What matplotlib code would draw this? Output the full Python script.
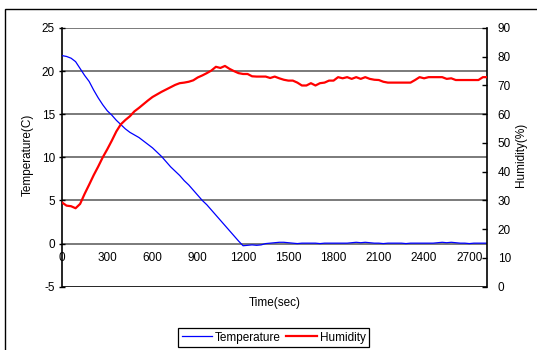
import numpy as np
import matplotlib
matplotlib.use("Agg")
import matplotlib.pyplot as plt
from matplotlib.patches import Rectangle

plt.rcParams['font.family'] = ['Liberation Sans', 'DejaVu Sans']
plt.rcParams['font.size'] = 8.5
plt.rcParams['axes.unicode_minus'] = False

# sample times (sec), every 30 s
time = np.arange(0, 2821, 30)

temperature = [
    21.8, 21.7, 21.5, 21.1, 20.3, 19.5, 18.8, 17.8, 16.9, 16.1,
    15.4, 14.9, 14.3, 13.8, 13.3, 12.9, 12.6, 12.3, 11.9, 11.5,
    11.1, 10.6, 10.1, 9.5, 8.9, 8.4, 7.9, 7.3, 6.8, 6.2,
    5.6, 5.0, 4.5, 3.9, 3.3, 2.7, 2.1, 1.5, 0.9, 0.3,
    -0.25, -0.2, -0.15, -0.2, -0.15, 0.0, 0.05, 0.1, 0.15, 0.15,
    0.1, 0.05, 0.0, 0.05, 0.05, 0.05, 0.05, 0.0, 0.05, 0.05,
    0.05, 0.05, 0.05, 0.05, 0.1, 0.15, 0.1, 0.15, 0.1, 0.05,
    0.05, 0.0, 0.05, 0.05, 0.05, 0.05, 0.0, 0.05, 0.05, 0.05,
    0.05, 0.05, 0.05, 0.1, 0.15, 0.1, 0.15, 0.1, 0.05, 0.05,
    0.0, 0.05, 0.05, 0.05, 0.05,
]

humidity = [
    29.3, 28.2, 28.0, 27.3, 28.8, 32.3, 35.5, 38.8, 41.8, 45.0,
    47.8, 50.8, 54.0, 56.5, 58.0, 59.3, 61.0, 62.2, 63.5, 64.8,
    66.0, 66.9, 67.8, 68.6, 69.4, 70.2, 70.8, 71.0, 71.3, 71.8,
    72.8, 73.5, 74.3, 75.2, 76.5, 76.1, 76.8, 75.8, 75.0, 74.3,
    74.0, 74.0, 73.2, 73.1, 73.1, 73.1, 72.6, 73.1, 72.5, 72.0,
    71.7, 71.7, 71.0, 70.0, 70.0, 70.8, 70.0, 70.8, 71.0, 71.7,
    71.7, 72.9, 72.5, 72.9, 72.3, 72.9, 72.3, 72.9, 72.3, 72.0,
    71.9, 71.3, 71.0, 71.0, 71.0, 71.0, 71.0, 71.0, 71.9, 72.9,
    72.5, 72.9, 72.9, 72.9, 72.9, 72.3, 72.5, 71.9, 71.9, 71.9,
    71.9, 71.9, 71.9, 72.9, 72.9,
]

x_ticks = list(range(0, 2701, 300))
temp_ticks = list(range(-5, 26, 5))
hum_ticks = list(range(0, 91, 10))

fig = plt.figure(figsize=(5.37, 3.5), dpi=100)
ax = fig.add_axes([62 / 537, 1 - 286.7 / 350, (486.7 - 62) / 537, (286.7 - 28) / 350])

# outer chart border (runs off the right/bottom of the picture)
fig.add_artist(Rectangle((5 / 537, -0.1), 2, 0.974 + 0.1, transform=fig.transFigure,
                         fill=False, edgecolor='black', lw=1.0))

# horizontal gridlines
for v in temp_ticks[1:]:
    ax.axhline(v, color='#707070', lw=1.3, zorder=1)
ax.axhline(-5, color='black', lw=1.2, zorder=1)

t_line, = ax.plot(time, temperature, color='#0000ff', lw=0.9, zorder=3, label='Temperature')
ax.set_xlim(0, 2815)
ax.set_ylim(-5, 25)
ax.set_yticks(temp_ticks)
ax.set_xticks(x_ticks)
ax.spines['top'].set_visible(False)
ax.spines['right'].set_visible(False)
ax.spines['bottom'].set_position(('data', 0))
ax.spines['bottom'].set_visible(False)
ax.spines['left'].set_linewidth(1.2)
ax.tick_params(axis='y', direction='inout', length=4, width=1, pad=3)
ax.tick_params(axis='x', length=0, pad=6)

ax2 = ax.twinx()
h_line, = ax2.plot(time, humidity, color='#ff0000', lw=1.6, zorder=3, label='Humidity')
ax2.set_ylim(0, 90)
ax2.set_yticks(hum_ticks)
for s in ['top', 'left', 'bottom']:
    ax2.spines[s].set_visible(False)
ax2.spines['right'].set_linewidth(1.2)
ax2.tick_params(axis='y', direction='in', length=3.5, width=1, pad=8)

fig.text(28 / 537, 1 - 155 / 350, 'Temperature(C)', rotation=90, ha='center', va='center')
fig.text(521 / 537, 1 - 155 / 350, 'Humidity(%)', rotation=90, ha='center', va='center')
fig.text(275 / 537, 1 - 303 / 350, 'Time(sec)', ha='center', va='center')

leg = fig.legend(handles=[t_line, h_line], loc='center', bbox_to_anchor=(273.5 / 537, 1 - 337.5 / 350),
                 ncol=2, fancybox=False, edgecolor='black', framealpha=1, handlelength=2.6,
                 handletextpad=0.2, columnspacing=0.5, borderpad=0.3)
leg.get_frame().set_linewidth(0.9)

fig.savefig('out.png', dpi=100)
